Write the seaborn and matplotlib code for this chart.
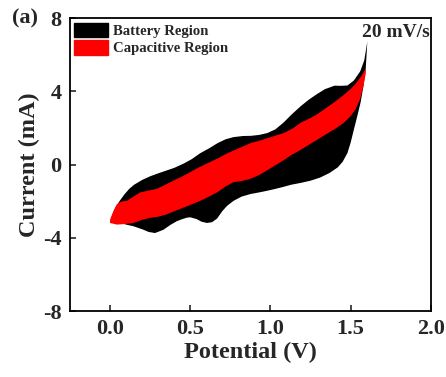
import matplotlib
matplotlib.use("Agg")
import matplotlib.pyplot as plt
import matplotlib.patches as mpatches
import seaborn as sns

# ======================================
# Data (20 mV/s)
# ======================================

# total CV (battery region outline): anodic sweep then cathodic sweep
anodic_v = [0.0, 0.01, 0.03, 0.06, 0.09, 0.12, 0.15, 0.20, 0.25, 0.30, 0.35, 0.40, 0.46,
            0.51, 0.56, 0.62, 0.67, 0.72, 0.77, 0.83, 0.88, 0.93, 0.98, 1.03, 1.08, 1.13,
            1.19, 1.24, 1.29, 1.34, 1.40, 1.44, 1.48, 1.52, 1.56, 1.585, 1.604]
anodic_i = [-3.19, -2.85, -2.4, -1.98, -1.62, -1.32, -1.10, -0.84, -0.64, -0.48, -0.33,
            -0.18, 0.06, 0.30, 0.61, 0.90, 1.17, 1.38, 1.50, 1.56, 1.57, 1.62, 1.72, 1.92,
            2.28, 2.72, 3.20, 3.55, 3.85, 4.12, 4.31, 4.30, 4.32, 4.59, 5.10, 5.70, 6.72]
cathodic_v = [1.604, 1.594, 1.58, 1.5625, 1.54, 1.52, 1.50, 1.48, 1.45, 1.42, 1.37, 1.31,
              1.25, 1.19, 1.13, 1.08, 1.03, 0.98, 0.93, 0.875, 0.82, 0.77, 0.73, 0.70,
              0.667, 0.635, 0.604, 0.57, 0.54, 0.50, 0.479, 0.45, 0.417, 0.375, 0.333,
              0.28, 0.24, 0.208, 0.146, 0.10, 0.0625, 0.0]
cathodic_i = [6.72, 5.24, 4.3, 3.41, 2.6, 1.91, 1.2, 0.63, 0.15, -0.15, -0.45, -0.71,
              -0.88, -1.00, -1.10, -1.22, -1.33, -1.43, -1.52, -1.61, -1.75, -1.98, -2.25,
              -2.54, -2.95, -3.15, -3.19, -3.12, -2.98, -2.88, -2.90, -2.98, -3.09, -3.30,
              -3.56, -3.74, -3.68, -3.56, -3.37, -3.28, -3.19, -3.19]

# capacitive region (red)
cap_up_v = [0.0, 0.02, 0.042, 0.07, 0.104, 0.146, 0.1875, 0.24, 0.29, 0.34, 0.396, 0.45,
            0.50, 0.55, 0.604, 0.67, 0.73, 0.80, 0.875, 0.93, 0.98, 1.03, 1.083, 1.14,
            1.1875, 1.24, 1.29, 1.34, 1.396, 1.45, 1.50, 1.535, 1.5625, 1.594]
cap_up_i = [-3.0, -2.55, -2.17, -2.02, -1.98, -1.75, -1.52, -1.42, -1.33, -1.12, -0.87,
            -0.65, -0.41, -0.17, 0.06, 0.33, 0.61, 0.88, 1.17, 1.30, 1.44, 1.58, 1.72,
            1.98, 2.28, 2.50, 2.74, 3.05, 3.39, 3.75, 4.13, 4.45, 4.78, 5.24]
cap_dn_v = [1.594, 1.58, 1.56, 1.53, 1.50, 1.458, 1.396, 1.34, 1.29, 1.24, 1.1875, 1.13,
            1.083, 1.03, 0.98, 0.93, 0.875, 0.82, 0.77, 0.72, 0.667, 0.61, 0.5625, 0.51,
            0.458, 0.40, 0.354, 0.30, 0.25, 0.20, 0.146, 0.09, 0.042, 0.0]
cap_dn_i = [4.96, 4.3, 3.6, 3.0, 2.65, 2.28, 1.91, 1.62, 1.35, 1.08, 0.80, 0.52, 0.24,
            -0.04, -0.31, -0.57, -0.78, -0.90, -0.96, -1.20, -1.52, -1.78, -1.98, -2.17,
            -2.35, -2.55, -2.72, -2.85, -2.91, -3.02, -3.19, -3.25, -3.28, -3.19]

x_ticks = [0.0, 0.5, 1.0, 1.5, 2.0]
y_ticks = [-8, -4, 0, 4, 8]

# ======================================
# Plot
# ======================================

sns.set_style("ticks")
plt.rcParams["font.family"] = ["Liberation Serif", "DejaVu Serif"]
plt.rcParams["font.weight"] = "bold"

fig = plt.figure(figsize=(4.46, 3.77), dpi=100)
ax = fig.add_axes([0.157, 0.175, 0.809, 0.777])

ax.fill(anodic_v + cathodic_v, anodic_i + cathodic_i, color="black", lw=0)
ax.fill(cap_up_v + cap_dn_v, cap_up_i + cap_dn_i, color="#ff0000", lw=0)

ax.set_xlim(-0.25, 2.0)
ax.set_ylim(-8, 8)
ax.set_xticks(x_ticks)
ax.set_yticks(y_ticks)
ax.set_xticklabels(["%.1f" % t for t in x_ticks], fontsize=16, fontweight="bold")
ax.set_yticklabels([str(t) for t in y_ticks], fontsize=16, fontweight="bold")
ax.tick_params(direction="in", length=4, width=1.2, pad=6)
for s in ax.spines.values():
    s.set_linewidth(1.3)
    s.set_color("black")

ax.set_xlabel("Potential (V)", fontsize=17.5, fontweight="bold", labelpad=2)
ax.set_ylabel("Current (mA)", fontsize=17.5, fontweight="bold", labelpad=2)

handles = [mpatches.Patch(color="black", label="Battery Region"),
           mpatches.Patch(color="#ff0000", label="Capacitive Region")]
ax.legend(handles=handles, loc="upper left", frameon=False,
          prop={"family": "Liberation Serif", "weight": "bold", "size": 10.6},
          handlelength=2.25, handleheight=1.15, handletextpad=0.35,
          labelspacing=0.15, borderaxespad=0.2, borderpad=0.1)

ax.text(1.57, 7.2, "20 mV/s", fontsize=14, fontweight="bold", va="center", ha="left")
fig.text(0.027, 0.952, "(a)", fontsize=16, fontweight="bold", va="center", ha="left")

fig.savefig("out.png", dpi=100)
